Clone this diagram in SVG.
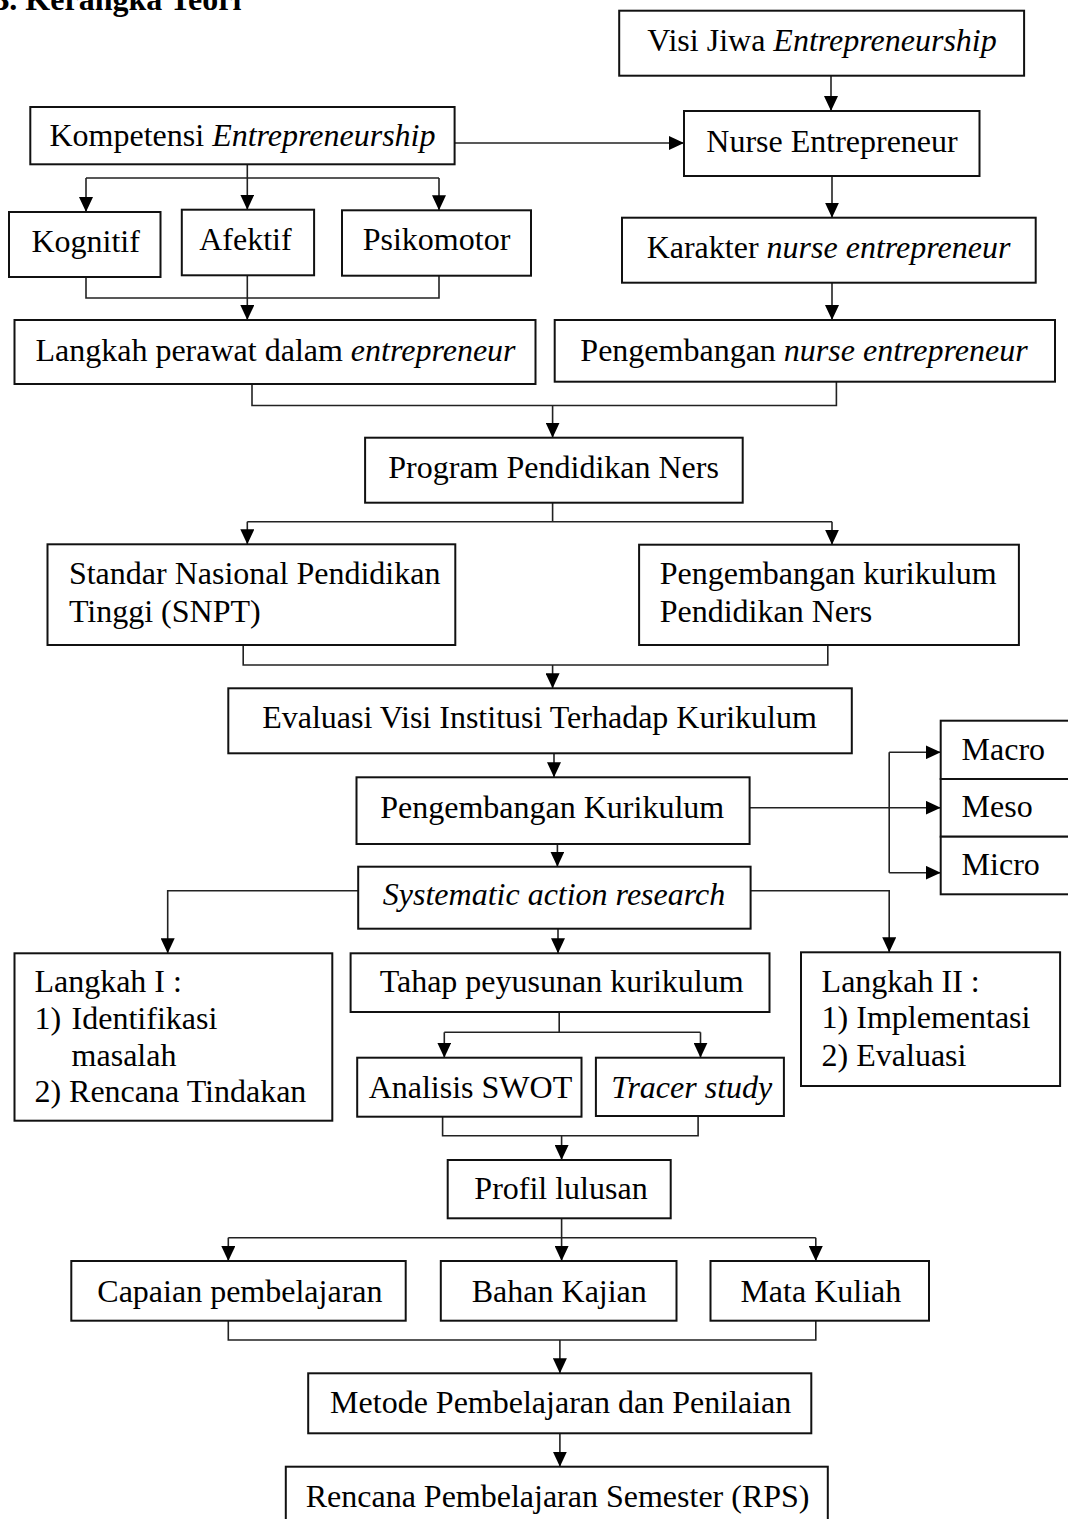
<svg xmlns="http://www.w3.org/2000/svg" width="1068" height="1519" viewBox="0 0 1068 1519">
<style>
.b{fill:#fff;stroke:#111;stroke-width:2}
.t{font-family:"Liberation Serif","Times New Roman",serif;font-size:32px;fill:#000}
.m{text-anchor:middle}
.i{font-style:italic}
.c{fill:none;stroke:#222;stroke-width:1.6}
</style>
<defs>
<marker id="ah" markerUnits="userSpaceOnUse" markerWidth="15" markerHeight="14" refX="15" refY="7" orient="auto">
<path d="M0,0 L15,7 L0,14 z" fill="#000"/>
</marker>
</defs>
<rect width="1068" height="1519" fill="#fff"/>
<text x="-12" y="10" class="t" font-weight="bold">B. Kerangka Teori</text>

<g id="connectors">
<path class="c" d="M831,76 V111" marker-end="url(#ah)"/>
<path class="c" d="M455,143 H684" marker-end="url(#ah)"/>
<path class="c" d="M832,176 V217.7" marker-end="url(#ah)"/>
<path class="c" d="M832,283 V320" marker-end="url(#ah)"/>
<path class="c" d="M247.3,164.3 V178 M86,178 H439"/>
<path class="c" d="M86,178 V212" marker-end="url(#ah)"/>
<path class="c" d="M247.3,178 V209.7" marker-end="url(#ah)"/>
<path class="c" d="M439,178 V210.3" marker-end="url(#ah)"/>
<path class="c" d="M86,277 V298 H439 V275.7"/>
<path class="c" d="M247.3,275.3 V320" marker-end="url(#ah)"/>
<path class="c" d="M252,384 V405.5 H836.4 V381.7"/>
<path class="c" d="M552.6,405.5 V437.7" marker-end="url(#ah)"/>
<path class="c" d="M552.6,502.7 V521.7 M247.3,521.7 H832"/>
<path class="c" d="M247.3,521.7 V544.3" marker-end="url(#ah)"/>
<path class="c" d="M832,521.7 V544.7" marker-end="url(#ah)"/>
<path class="c" d="M243.2,645 V665 H827.8 V645"/>
<path class="c" d="M552.6,665 V688.3" marker-end="url(#ah)"/>
<path class="c" d="M554,753.3 V777.3" marker-end="url(#ah)"/>
<path class="c" d="M557.4,844 V866.7" marker-end="url(#ah)"/>
<path class="c" d="M749.6,807.7 H940.7" marker-end="url(#ah)"/>
<path class="c" d="M889.2,752.3 V872.7"/>
<path class="c" d="M889.2,752.3 H940.7" marker-end="url(#ah)"/>
<path class="c" d="M889.2,872.7 H940.7" marker-end="url(#ah)"/>
<path class="c" d="M558,928.7 V953.3" marker-end="url(#ah)"/>
<path class="c" d="M358.2,890.7 H167.7 V953.3" marker-end="url(#ah)"/>
<path class="c" d="M750.6,890.7 H889.2 V952.3" marker-end="url(#ah)"/>
<path class="c" d="M559.2,1012 V1032.3 M444.3,1032.3 H700.5"/>
<path class="c" d="M444.3,1032.3 V1057.7" marker-end="url(#ah)"/>
<path class="c" d="M700.5,1032.3 V1057.7" marker-end="url(#ah)"/>
<path class="c" d="M442.6,1116.7 V1135.7 H698.1 V1116.7"/>
<path class="c" d="M561.6,1135.7 V1160" marker-end="url(#ah)"/>
<path class="c" d="M561.6,1218.3 V1237.7 M228.3,1237.7 H815.8"/>
<path class="c" d="M228.3,1237.7 V1261" marker-end="url(#ah)"/>
<path class="c" d="M561.6,1237.7 V1261" marker-end="url(#ah)"/>
<path class="c" d="M815.8,1237.7 V1261" marker-end="url(#ah)"/>
<path class="c" d="M228.3,1320.7 V1340 H815.8 V1320.7"/>
<path class="c" d="M559.9,1340 V1373.3" marker-end="url(#ah)"/>
<path class="c" d="M559.9,1433.3 V1466.7" marker-end="url(#ah)"/>
</g>

<g id="visi"><rect class="b" x="619.2" y="10.7" width="404.9" height="65"/><text class="t m" x="822" y="51">Visi Jiwa <tspan class="i">Entrepreneurship</tspan></text></g>
<g id="kompetensi"><rect class="b" x="30.3" y="107" width="424.3" height="57.3"/><text class="t m" x="242.5" y="146">Kompetensi <tspan class="i">Entrepreneurship</tspan></text></g>
<g id="nurse"><rect class="b" x="684" y="111" width="295.5" height="65"/><text class="t m" x="832" y="152">Nurse Entrepreneur</text></g>
<g id="kognitif"><rect class="b" x="9" y="212" width="151.5" height="65"/><text class="t m" x="85.6" y="252">Kognitif</text></g>
<g id="afektif"><rect class="b" x="181.8" y="209.7" width="132.3" height="65.6"/><text class="t m" x="245.4" y="250">Afektif</text></g>
<g id="psikomotor"><rect class="b" x="342" y="210.3" width="189" height="65.4"/><text class="t m" x="436.5" y="250">Psikomotor</text></g>
<g id="karakter"><rect class="b" x="622" y="217.7" width="413.7" height="65"/><text class="t m" x="828.5" y="258.3">Karakter <tspan class="i">nurse entrepreneur</tspan></text></g>
<g id="langkah-perawat"><rect class="b" x="14.5" y="320" width="521" height="64"/><text class="t m" x="275.5" y="360.7">Langkah perawat dalam <tspan class="i">entrepreneur</tspan></text></g>
<g id="pengembangan-nurse"><rect class="b" x="554.7" y="320" width="500.3" height="61.7"/><text class="t m" x="804" y="360.7">Pengembangan <tspan class="i">nurse entrepreneur</tspan></text></g>
<g id="program"><rect class="b" x="365.1" y="437.7" width="377.6" height="65"/><text class="t m" x="553.6" y="478.3">Program Pendidikan Ners</text></g>
<g id="snpt"><rect class="b" x="47.5" y="544.3" width="407.8" height="100.7"/><text class="t" x="68.9" y="584">Standar Nasional Pendidikan</text><text class="t" x="68.9" y="622.3">Tinggi (SNPT)</text></g>
<g id="pk-ners"><rect class="b" x="639.1" y="544.7" width="379.8" height="100.3"/><text class="t" x="659.7" y="584">Pengembangan kurikulum</text><text class="t" x="659.7" y="622.3">Pendidikan Ners</text></g>
<g id="evaluasi"><rect class="b" x="228.3" y="688.3" width="623.5" height="65"/><text class="t m" x="539.5" y="728.3">Evaluasi Visi Institusi Terhadap Kurikulum</text></g>
<g id="pengembangan-kurikulum"><rect class="b" x="356.5" y="777.3" width="393.1" height="66.7"/><text class="t m" x="552.2" y="818.3">Pengembangan Kurikulum</text></g>
<g id="macro"><rect class="b" x="940.7" y="720.7" width="140" height="58.3"/><text class="t" x="961.6" y="760">Macro</text></g>
<g id="meso"><rect class="b" x="940.7" y="779" width="140" height="57.7"/><text class="t" x="961.6" y="817.3">Meso</text></g>
<g id="micro"><rect class="b" x="940.7" y="836.7" width="140" height="57.6"/><text class="t" x="961.6" y="875">Micro</text></g>
<g id="systematic"><rect class="b" x="358.2" y="866.7" width="392.4" height="62"/><text class="t m i" x="554" y="905">Systematic action research</text></g>
<g id="tahap"><rect class="b" x="350.6" y="953.3" width="418.9" height="58.7"/><text class="t m" x="561.6" y="991.7">Tahap peyusunan kurikulum</text></g>
<g id="langkah-1"><rect class="b" x="14.5" y="953.3" width="317.8" height="167.4"/><text class="t" x="34.4" y="991.7">Langkah I :</text><text class="t" x="34.4" y="1029.3">1)</text><text class="t" x="71.6" y="1029.3">Identifikasi</text><text class="t" x="71.6" y="1066">masalah</text><text class="t" x="34.4" y="1101.7">2) Rencana Tindakan</text></g>
<g id="langkah-2"><rect class="b" x="801" y="952.3" width="259.1" height="133.7"/><text class="t" x="821.6" y="991.7">Langkah II :</text><text class="t" x="821.6" y="1028.3">1) Implementasi</text><text class="t" x="821.6" y="1066">2) Evaluasi</text></g>
<g id="swot"><rect class="b" x="357.2" y="1057.7" width="224.3" height="59"/><text class="t m" x="470.4" y="1098">Analisis SWOT</text></g>
<g id="tracer"><rect class="b" x="595.9" y="1057.7" width="188" height="58.3"/><text class="t m i" x="691.8" y="1098">Tracer study</text></g>
<g id="profil"><rect class="b" x="447.7" y="1160" width="223" height="58.3"/><text class="t m" x="561" y="1199">Profil lulusan</text></g>
<g id="capaian"><rect class="b" x="71.3" y="1261" width="334.4" height="59.7"/><text class="t m" x="239.9" y="1301.7">Capaian pembelajaran</text></g>
<g id="bahan"><rect class="b" x="440.8" y="1261" width="235.7" height="59.7"/><text class="t m" x="559.3" y="1301.7">Bahan Kajian</text></g>
<g id="mata"><rect class="b" x="710.5" y="1261" width="218.5" height="59.7"/><text class="t m" x="820.8" y="1301.7">Mata Kuliah</text></g>
<g id="metode"><rect class="b" x="308.2" y="1373.3" width="503.1" height="60"/><text class="t m" x="560.7" y="1413.3">Metode Pembelajaran dan Penilaian</text></g>
<g id="rps"><rect class="b" x="285.8" y="1466.7" width="542" height="70"/><text class="t m" x="557.6" y="1507.3">Rencana Pembelajaran Semester (RPS)</text></g>
</svg>
